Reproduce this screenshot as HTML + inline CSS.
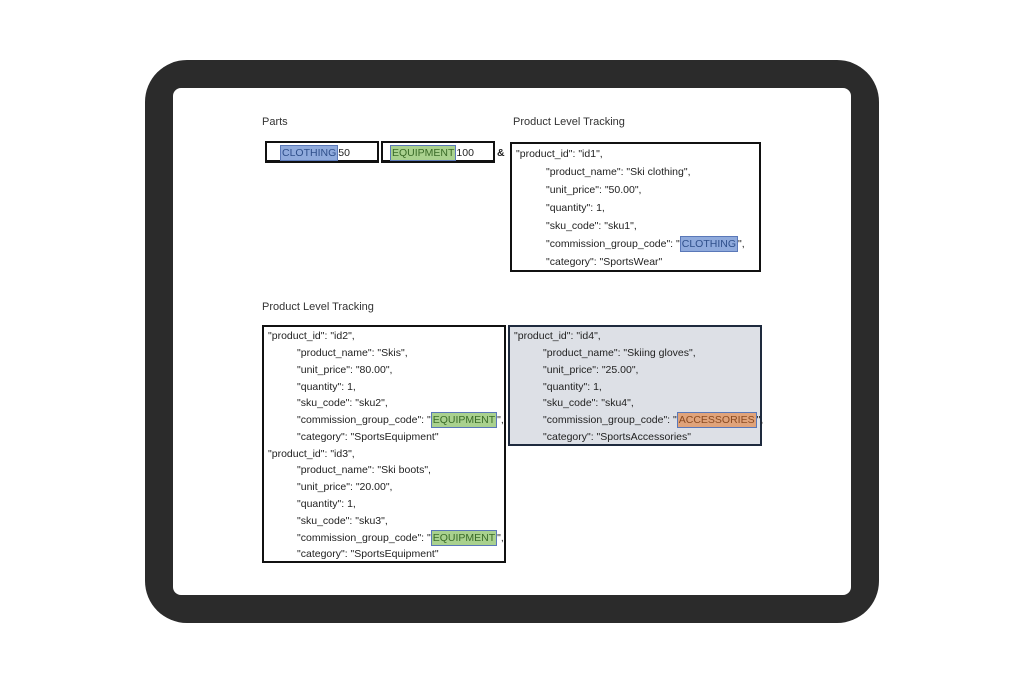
<!DOCTYPE html>
<html><head><style>
body{margin:0;width:1025px;height:682px;background:#fff;position:relative;font-family:"Liberation Sans",sans-serif;overflow:hidden}
.outer{position:absolute;left:145px;top:60px;width:734px;height:563px;background:#2b2b2b;border-radius:42px}
.inner{position:absolute;left:173px;top:88px;width:678px;height:507px;background:#fff;border-radius:8px}
.t{position:absolute;font-size:10.5px;color:#222;white-space:nowrap;line-height:12px;margin-top:1px}
.lbl{position:absolute;font-size:11px;color:#333;white-space:nowrap}
.box{position:absolute;border:2px solid #111;background:#fff;box-sizing:border-box}
.hl{padding:1px 1px;border:1px solid #5a78b8}
.b{background:#8faadc;color:#2f4f8a}.g{background:#a9d18e;color:#3a6b28}.o{background:#e0a37a;color:#8a4a20}
</style></head><body>
<div class="outer"></div><div class="inner"></div>
<div class="lbl" style="left:262px;top:116px">Parts</div>
<div class="lbl" style="left:513px;top:116px">Product Level Tracking</div>
<div class="lbl" style="left:262px;top:301px">Product Level Tracking</div>

<div class="box" style="left:265px;top:141px;width:114px;height:22px;border-bottom-width:3px"></div>
<div class="t" style="left:280px;top:146px"><span class="hl b">CLOTHING</span>50</div>
<div class="box" style="left:381px;top:141px;width:114px;height:22px;border-bottom-width:3px"></div>
<div class="t" style="left:390px;top:146px"><span class="hl g">EQUIPMENT</span>100</div>
<div class="t" style="left:497px;top:146px;font-weight:bold">&amp;</div>

<div class="box" style="left:510px;top:142px;width:251px;height:130px"></div>
<div class="t" style="left:516px;top:147px">"product_id": "id1",</div>
<div class="t" style="left:546px;top:165px">"product_name": "Ski clothing",</div>
<div class="t" style="left:546px;top:183px">"unit_price": "50.00",</div>
<div class="t" style="left:546px;top:201px">"quantity": 1,</div>
<div class="t" style="left:546px;top:219px">"sku_code": "sku1",</div>
<div class="t" style="left:546px;top:237px">"commission_group_code": "<span class="hl b">CLOTHING</span>",</div>
<div class="t" style="left:546px;top:255px">"category": "SportsWear"</div>

<div class="box" style="left:262px;top:325px;width:244px;height:238px"></div>
<div class="t" style="left:268px;top:329px">"product_id": "id2",</div>
<div class="t" style="left:297px;top:346px">"product_name": "Skis",</div>
<div class="t" style="left:297px;top:363px">"unit_price": "80.00",</div>
<div class="t" style="left:297px;top:380px">"quantity": 1,</div>
<div class="t" style="left:297px;top:396px">"sku_code": "sku2",</div>
<div class="t" style="left:297px;top:413px">"commission_group_code": "<span class="hl g">EQUIPMENT</span>",</div>
<div class="t" style="left:297px;top:430px">"category": "SportsEquipment"</div>
<div class="t" style="left:268px;top:447px">"product_id": "id3",</div>
<div class="t" style="left:297px;top:463px">"product_name": "Ski boots",</div>
<div class="t" style="left:297px;top:480px">"unit_price": "20.00",</div>
<div class="t" style="left:297px;top:497px">"quantity": 1,</div>
<div class="t" style="left:297px;top:514px">"sku_code": "sku3",</div>
<div class="t" style="left:297px;top:531px">"commission_group_code": "<span class="hl g">EQUIPMENT</span>",</div>
<div class="t" style="left:297px;top:547px">"category": "SportsEquipment"</div>

<div class="box" style="left:508px;top:325px;width:254px;height:121px;background:#dde0e6;border-color:#1e2a3e"></div>
<div class="t" style="left:514px;top:329px">"product_id": "id4",</div>
<div class="t" style="left:543px;top:346px">"product_name": "Skiing gloves",</div>
<div class="t" style="left:543px;top:363px">"unit_price": "25.00",</div>
<div class="t" style="left:543px;top:380px">"quantity": 1,</div>
<div class="t" style="left:543px;top:396px">"sku_code": "sku4",</div>
<div class="t" style="left:543px;top:413px">"commission_group_code": "<span class="hl o">ACCESSORIES</span>",</div>
<div class="t" style="left:543px;top:430px">"category": "SportsAccessories"</div>
</body></html>
